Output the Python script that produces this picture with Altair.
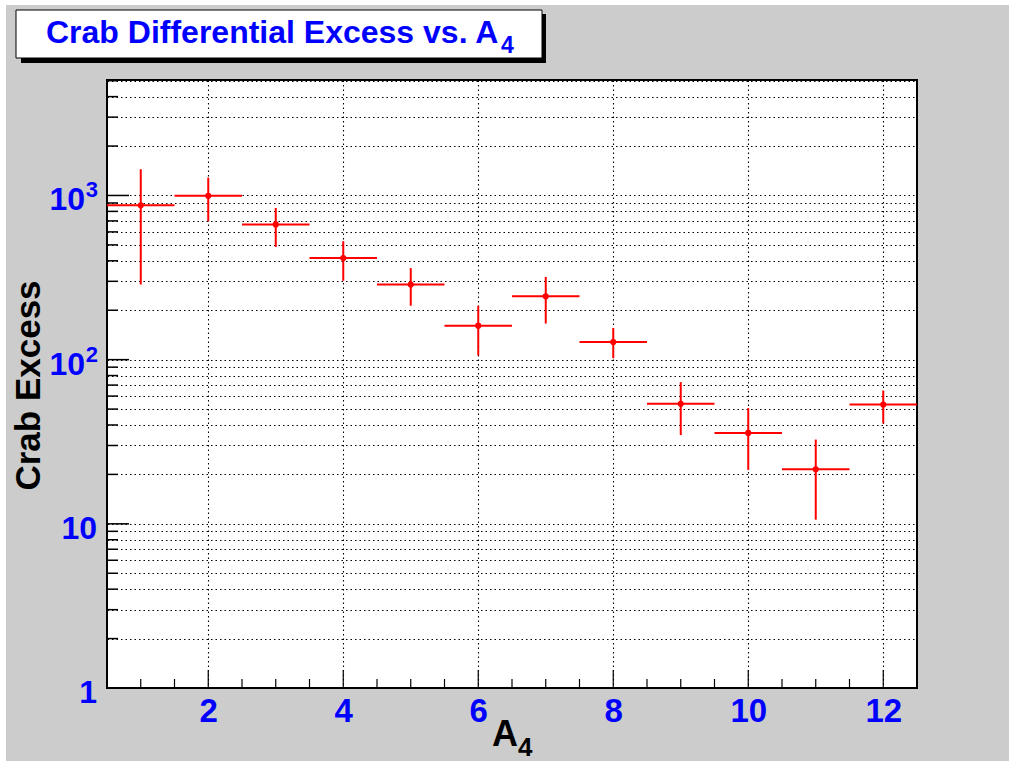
import altair as alt
import pandas as pd

# ---- data ----
a4_bins = [1, 2, 3, 4, 5, 6, 7, 8, 9, 10, 11, 12]
bin_half_width = [0.5] * 12
excess = [871, 995, 666, 416, 287, 161, 243, 128, 53.8, 35.8, 21.5, 53.3]
excess_hi = [1445, 1285, 839, 527, 361, 213, 319, 156, 73, 50.7, 32.6, 64.9]
excess_lo = [287, 697, 486, 302, 213, 106, 166, 102, 34.7, 21.3, 10.6, 40.9]

x_major_ticks = [2, 4, 6, 8, 10, 12]
x_minor_ticks = [1, 1.5, 2.5, 3, 3.5, 4.5, 5, 5.5, 6.5, 7, 7.5, 8.5, 9, 9.5,
                 10.5, 11, 11.5]
y_major_ticks = [1, 10, 100, 1000]
y_minor_ticks = [2, 3, 4, 5, 6, 7, 8, 9,
                 20, 30, 40, 50, 60, 70, 80, 90,
                 200, 300, 400, 500, 600, 700, 800, 900,
                 2000, 3000, 4000, 5000]
y_grid_values = sorted(y_major_ticks + y_minor_ticks)

# y tick labels: plain ones and power-of-ten ones (base "10" + exponent)
y_plain_values = [1, 10]
y_plain_text = ["1", "10"]
y_pow_values = [100, 1000]
y_pow_base = ["10", "10"]
y_pow_exp = ["2", "3"]

W, H = 810, 608
FONT = "Liberation Sans"
BLUE = "#0000ff"
RED = "#ff0000"
LBL = 32

df = pd.DataFrame({
    "a4": a4_bins,
    "xlo": [c - h for c, h in zip(a4_bins, bin_half_width)],
    "xhi": [c + h for c, h in zip(a4_bins, bin_half_width)],
    "excess": excess,
    "lo": excess_lo,
    "hi": excess_hi,
})

xscale = alt.Scale(domain=[0.5, 12.5], nice=False, zero=False)
yscale = alt.Scale(type="log", domain=[1, 5050], nice=False)

xaxis = alt.Axis(values=x_major_ticks, format="d", grid=True, gridColor="black",
                 gridDash=[1.5, 3], gridWidth=1.1, ticks=False, tickSize=0, domain=False,
                 title=None, labelColor=BLUE, labelFont=FONT, labelFontWeight="bold",
                 labelFontSize=LBL + 1, labelPadding=7, labelFlush=False)
yaxis = alt.Axis(values=y_grid_values, grid=True, gridColor="black", gridDash=[1.5, 3],
                 gridWidth=1.1, ticks=False, tickSize=0, domain=False, title=None,
                 labels=False)

base = alt.Chart(df)

vbars = base.mark_rule(color=RED, strokeWidth=2).encode(
    x=alt.X("a4:Q", scale=xscale, axis=xaxis),
    y=alt.Y("lo:Q", scale=yscale, axis=yaxis),
    y2="hi:Q",
)
hbars = base.mark_rule(color=RED, strokeWidth=2).encode(
    x=alt.X("xlo:Q", scale=xscale),
    x2="xhi:Q",
    y=alt.Y("excess:Q", scale=yscale),
)
points = base.mark_circle(color=RED, size=38, opacity=1).encode(
    x=alt.X("a4:Q", scale=xscale),
    y=alt.Y("excess:Q", scale=yscale),
)

# axis ticks drawn inside the frame
ymaj = alt.Chart(pd.DataFrame({"v": y_major_ticks})).mark_rule(color="black", strokeWidth=1.5).encode(
    y=alt.Y("v:Q", scale=yscale), x=alt.value(0), x2=alt.value(22))
ymin = alt.Chart(pd.DataFrame({"v": y_minor_ticks})).mark_rule(color="black", strokeWidth=1.5).encode(
    y=alt.Y("v:Q", scale=yscale), x=alt.value(0), x2=alt.value(11))
xmaj = alt.Chart(pd.DataFrame({"v": x_major_ticks})).mark_rule(color="black", strokeWidth=1.2).encode(
    x=alt.X("v:Q", scale=xscale), y=alt.value(H), y2=alt.value(H - 18))
xmin = alt.Chart(pd.DataFrame({"v": x_minor_ticks})).mark_rule(color="black", strokeWidth=1.2).encode(
    x=alt.X("v:Q", scale=xscale), y=alt.value(H), y2=alt.value(H - 9))

# y tick labels placed through the y scale
ylab_plain = alt.Chart(pd.DataFrame({"v": y_plain_values, "t": y_plain_text})).mark_text(
    font=FONT, fontWeight="bold", fontSize=LBL, color=BLUE, align="right",
    baseline="middle", dy=5).encode(
    y=alt.Y("v:Q", scale=yscale), x=alt.value(-10), text="t:N")
ylab_pow = alt.Chart(pd.DataFrame({"v": y_pow_values, "t": y_pow_base})).mark_text(
    font=FONT, fontWeight="bold", fontSize=LBL, color=BLUE, align="right",
    baseline="middle", dy=5).encode(
    y=alt.Y("v:Q", scale=yscale), x=alt.value(-22), text="t:N")
ylab_exp = alt.Chart(pd.DataFrame({"v": y_pow_values, "t": y_pow_exp})).mark_text(
    font=FONT, fontWeight="bold", fontSize=22, color=BLUE, align="right",
    baseline="alphabetic", dy=2).encode(
    y=alt.Y("v:Q", scale=yscale), x=alt.value(-9), text="t:N")

one = pd.DataFrame({"k": [0]})
# white margin strips of the canvas (left and top)
strip_left = alt.Chart(one).mark_rect(color="white").encode(
    x=alt.value(-107), x2=alt.value(-101), y=alt.value(-80), y2=alt.value(H + 73))
strip_top = alt.Chart(one).mark_rect(color="white").encode(
    x=alt.value(-107), x2=alt.value(W + 92), y=alt.value(-80), y2=alt.value(-75))

# title box with shadow
shadow = alt.Chart(one).mark_rect(color="black").encode(
    x=alt.value(21 - 107), x2=alt.value(546 - 107), y=alt.value(14 - 80), y2=alt.value(63 - 80))
box = alt.Chart(one).mark_rect(fill="white", stroke="black", strokeWidth=1).encode(
    x=alt.value(16 - 107), x2=alt.value(542 - 107), y=alt.value(10 - 80), y2=alt.value(58 - 80))
title_main = alt.Chart(one).mark_text(
    text="Crab Differential Excess vs. A", font=FONT, fontWeight="bold", fontSize=32,
    color=BLUE, align="left", baseline="alphabetic").encode(
    x=alt.value(46 - 107), y=alt.value(43 - 80))
title_sub = alt.Chart(one).mark_text(
    text="4", font=FONT, fontWeight="bold", fontSize=23,
    color=BLUE, align="left", baseline="alphabetic").encode(
    x=alt.value(501 - 107), y=alt.value(53 - 80))

# axis titles
ytitle = alt.Chart(one).mark_text(
    text="Crab Excess", font=FONT, fontWeight="bold", fontSize=35, color="black",
    angle=270, align="center", baseline="alphabetic").encode(
    x=alt.value(39.5 - 107), y=alt.value(385.5 - 80))
xtitle_a = alt.Chart(one).mark_text(
    text="A", font=FONT, fontWeight="bold", fontSize=36, color="black",
    align="left", baseline="alphabetic").encode(
    x=alt.value(492 - 107), y=alt.value(746 - 80))
xtitle_sub = alt.Chart(one).mark_text(
    text="4", font=FONT, fontWeight="bold", fontSize=26, color="black",
    align="left", baseline="alphabetic").encode(
    x=alt.value(518 - 107), y=alt.value(756 - 80))

chart = alt.layer(
    strip_left, strip_top, shadow, box, title_main, title_sub,
    vbars, hbars, points, ymaj, ymin, xmaj, xmin,
    ylab_plain, ylab_pow, ylab_exp,
    ytitle, xtitle_a, xtitle_sub,
).properties(
    width=W, height=H,
    autosize=alt.AutoSizeParams(type="none"),
    padding={"left": 107, "top": 80, "right": 92, "bottom": 73},
    background="#cccccc",
).configure_view(
    fill="white", stroke="black", strokeWidth=2,
)

chart.save("out.html", embed_options={"renderer": "svg", "actions": False})
